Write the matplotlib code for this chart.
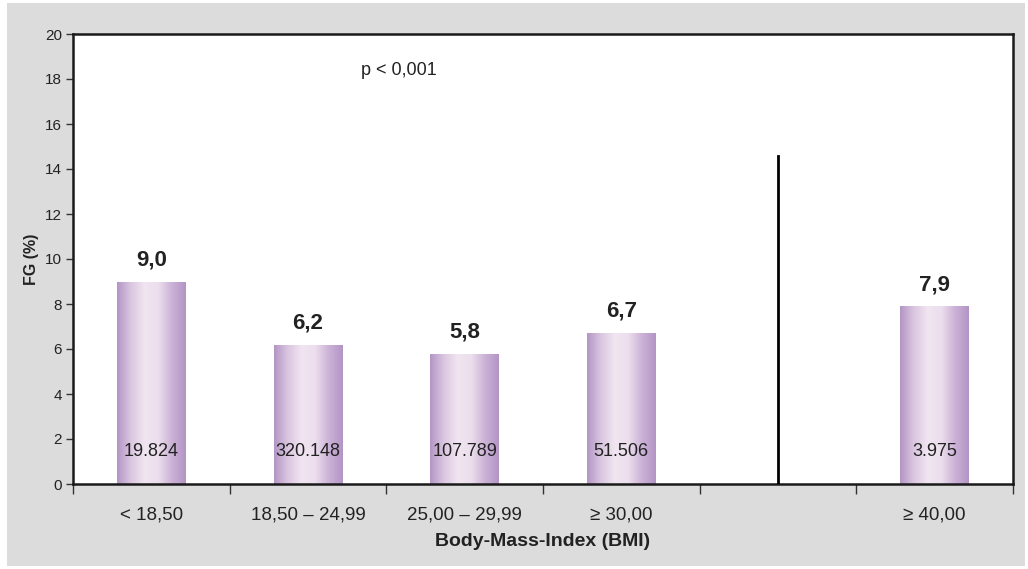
import numpy as np
import matplotlib.pyplot as plt
from matplotlib.colors import LinearSegmentedColormap
from matplotlib.patches import Rectangle

plt.rcParams['font.family'] = ['Liberation Sans', 'DejaVu Sans']

# BMI groups (one empty slot separates the >= 40 group)
categories = ['< 18,50', '18,50 – 24,99', '25,00 – 29,99', '≥ 30,00', '', '≥ 40,00']
fg_percent = [9.0, 6.2, 5.8, 6.7, None, 7.9]
fg_labels = ['9,0', '6,2', '5,8', '6,7', '', '7,9']
counts = ['19.824', '320.148', '107.789', '51.506', '', '3.975']
y_ticks = [0, 2, 4, 6, 8, 10, 12, 14, 16, 18, 20]

fig = plt.figure(figsize=(10.28, 5.69), dpi=100)
fig.patch.set_facecolor('white')
# grey panel behind the chart
fig.add_artist(Rectangle((7 / 1028, 3 / 569), 1018 / 1028, 563 / 569,
                         transform=fig.transFigure, facecolor='#dcdcdc',
                         edgecolor='none', zorder=-10))

ax = fig.add_axes([73 / 1028, 1 - 484 / 569, 940 / 1028, 450 / 569])
ax.set_facecolor('white')

n = len(categories)
x = np.arange(n)
bar_w = 0.44

# purple cylinder-like shading across each bar
shade = LinearSegmentedColormap.from_list(
    'shade', ['#b395c5', '#dac6e0', '#f1e5f1', '#ecdeed', '#cbb1d6', '#b395c5'])
grad = np.linspace(0, 1, 256).reshape(1, -1)

for xi, val, lab, cnt in zip(x, fg_percent, fg_labels, counts):
    if val is None:
        continue
    bar = ax.bar(xi, val, width=bar_w, color='none', edgecolor='none')[0]
    img = ax.imshow(grad, cmap=shade, aspect='auto', zorder=2,
                    extent=(xi - bar_w / 2, xi + bar_w / 2, 0, val))
    img.set_clip_path(bar)
    ax.text(xi, val + 0.5, lab, ha='center', va='bottom', fontsize=16,
            fontweight='bold', color='#222222', zorder=3)
    ax.text(xi, 1.45, cnt, ha='center', va='center', fontsize=13,
            color='#222222', zorder=3)

ax.set_xlim(-0.5, n - 0.5)
ax.set_ylim(0, 20)

# separator before the >= 40 group
ax.plot([4, 4], [0, 14.6], color='black', lw=2, zorder=3)

ax.text(1.58, 18.4, 'p < 0,001', ha='center', va='center', fontsize=13,
        color='#222222')

ax.set_yticks(y_ticks)
ax.set_yticklabels([str(t) for t in y_ticks], fontsize=11, color='#222222')
ax.set_xticks(np.arange(-0.5, n, 1.0))
ax.set_xticklabels([])
ax.set_xticks(x, minor=True)
ax.set_xticklabels(categories, minor=True, fontsize=13.5, color='#222222')
ax.tick_params(axis='x', which='major', length=7, width=1, color='#333333')
ax.tick_params(axis='x', which='minor', length=0, pad=16)
ax.tick_params(axis='y', length=5, width=1, color='#333333', pad=3)

for side in ['left', 'bottom', 'top', 'right']:
    ax.spines[side].set_linewidth(1.8)
    ax.spines[side].set_color('#1a1a1a')

ax.set_ylabel('FG (%)', fontsize=11.5, fontweight='bold', color='#222222',
              labelpad=4)
ax.set_xlabel('Body-Mass-Index (BMI)', fontsize=14, fontweight='bold',
              color='#222222', labelpad=7)

fig.savefig('out.png', dpi=100, facecolor=fig.get_facecolor())
